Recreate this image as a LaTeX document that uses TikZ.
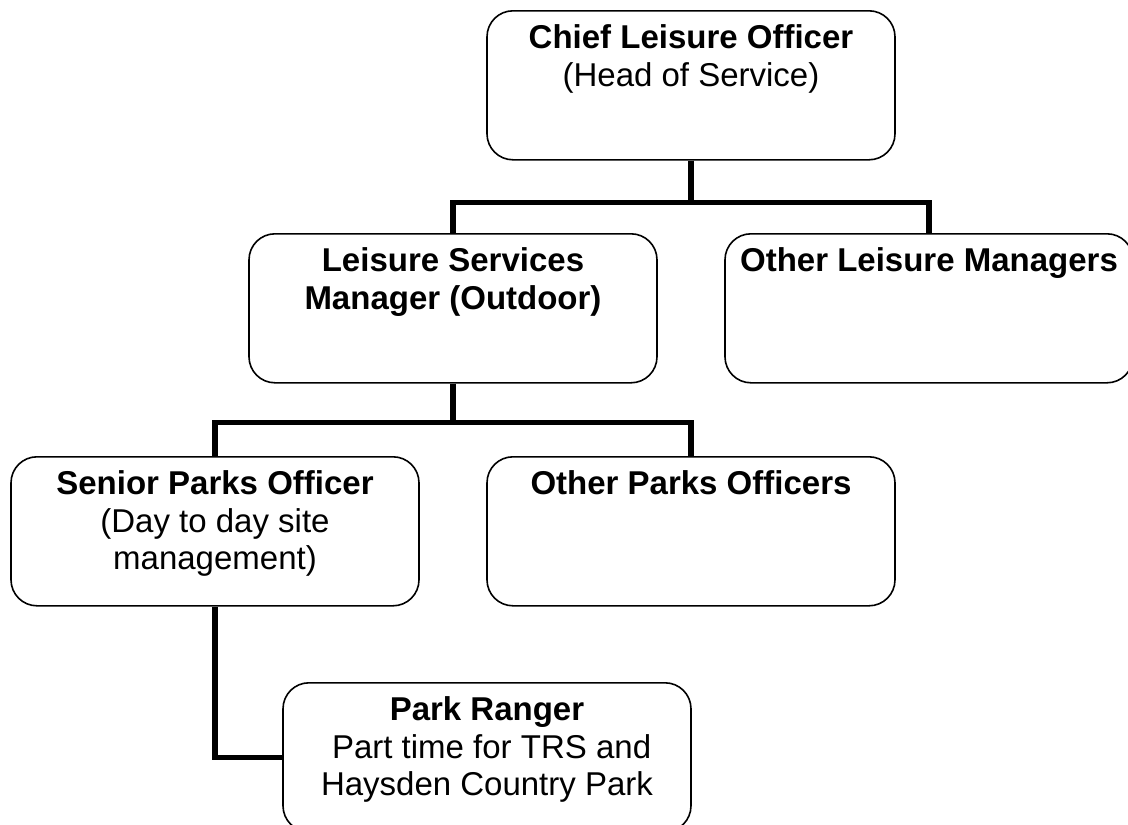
\documentclass[tikz,border=0pt]{standalone}
\usepackage{fontspec}
\setmainfont{Liberation Sans}
\usepackage{tikz}
\usetikzlibrary{positioning}

\begin{document}
\begin{tikzpicture}[x=1pt,y=-1pt,
    post/.style={draw,line width=1.6pt,rounded corners=26pt,minimum width=408pt,
      minimum height=149pt,inner sep=0pt,anchor=north,
      font=\fontsize{33pt}{37.5pt}\selectfont},
    link/.style={line width=5.5pt}]
    \useasboundingbox (0,0) rectangle (1128,825);
    \node[post] (chief) at (691,10) {\parbox[c][149pt][t]{404pt}{\centering\vspace*{14pt}%
      \textbf{Chief Leisure Officer}\\(Head of Service)}};
    \node[post] (lsm) at (453,233) {\parbox[c][149pt][t]{404pt}{\centering\vspace*{14pt}%
      \textbf{Leisure Services}\\\textbf{Manager (Outdoor)}}};
    \node[post] (olm) at (929,233) {\parbox[c][149pt][t]{404pt}{\centering\vspace*{14pt}%
      \textbf{Other Leisure Managers}}};
    \node[post] (spo) at (215,456) {\parbox[c][149pt][t]{404pt}{\centering\vspace*{14pt}%
      \textbf{Senior Parks Officer}\\(Day to day site\\management)}};
    \node[post] (opo) at (691,456) {\parbox[c][149pt][t]{404pt}{\centering\vspace*{14pt}%
      \textbf{Other Parks Officers}}};
    \node[post] (ranger) at (487,682) {\parbox[c][149pt][t]{404pt}{\centering\vspace*{14pt}%
      \textbf{Park Ranger}\\\mbox{} Part time for TRS and\\Haysden Country Park}};
    % reporting lines
    \draw[link] (chief.south) -- ++(0,42) -| (lsm.north);
    \draw[link] (chief.south) -- ++(0,42) -| (olm.north);
    \draw[link] (lsm.south) -- ++(0,39) -| (spo.north);
    \draw[link] (lsm.south) -- ++(0,39) -| (opo.north);
    \draw[link] (spo.south) |- (ranger.west);
\end{tikzpicture}
\end{document}
